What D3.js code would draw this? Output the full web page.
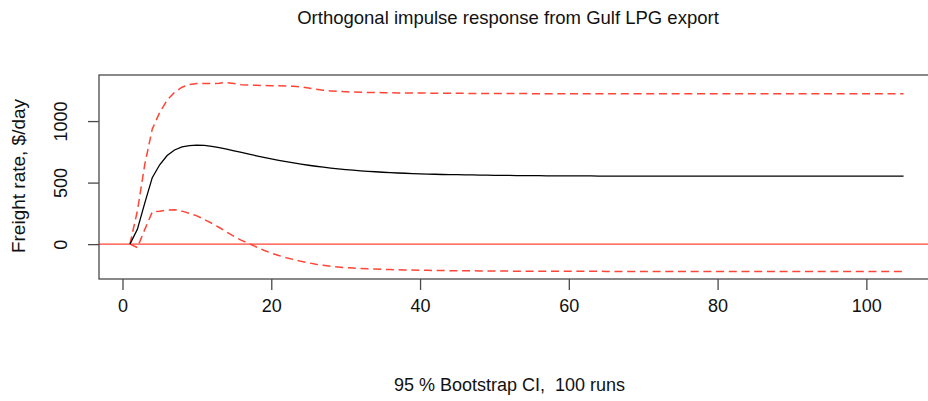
<!DOCTYPE html>
<html>
<head>
<meta charset="utf-8">
<script src="https://cdn.jsdelivr.net/npm/d3@7"></script>
<style>
  html, body { margin: 0; padding: 0; background: #fff; }
  svg { display: block; font-family: "Liberation Sans", Arial, Helvetica, sans-serif; }
  text { white-space: pre; }
</style>
</head>
<body>
<svg id="chart" width="928" height="401"></svg>
<script>
// Orthogonal impulse response of the freight rate to a Gulf LPG export shock,
// with 95% bootstrap confidence bands (horizon steps 1..105).
const title = "Orthogonal impulse response from Gulf LPG export";
const subtitle = "95 % Bootstrap CI,  100 runs";
const yLabel = "Freight rate, $/day";

const xTicks = [0, 20, 40, 60, 80, 100];
const yTicks = [0, 500, 1000];

// point estimate
const irf = [
  0, 120, 335, 540, 645, 720, 765, 790, 801, 804,
  802, 795, 784, 772, 758, 745, 731, 718, 705, 693,
  681, 670, 660, 650, 641, 633, 625, 618, 612, 606,
  601, 596, 592, 588, 584, 581, 578, 576, 573, 571,
  569, 568, 566, 565, 564, 563, 562, 561, 560, 559,
  558, 558, 557, 557, 556, 556, 555, 555, 555, 554,
  554, 554, 554, 553, 553, 553, 553, 553, 553, 553,
  553, 553, 553, 552, 552, 552, 552, 552, 552, 552,
  552, 552, 552, 552, 552, 552, 552, 552, 552, 552,
  552, 552, 552, 552, 552, 552, 552, 552, 552, 552,
  552, 552, 552, 552, 552
];

// upper 95% bound
const upper = [
  0, 270, 650, 935, 1070, 1170, 1235, 1275, 1298, 1305,
  1306, 1305, 1308, 1313, 1305, 1296, 1293, 1291, 1289, 1288,
  1287, 1285, 1283, 1278, 1268, 1258, 1250, 1245, 1241, 1238,
  1236, 1234, 1233, 1232, 1231, 1230, 1229, 1229, 1228, 1228,
  1227, 1227, 1226, 1226, 1226, 1225, 1225, 1225, 1225, 1224,
  1224, 1224, 1224, 1224, 1223, 1223, 1223, 1223, 1223, 1223,
  1223, 1223, 1223, 1222, 1222, 1222, 1222, 1222, 1222, 1222,
  1222, 1222, 1222, 1222, 1222, 1222, 1222, 1222, 1222, 1222,
  1222, 1222, 1222, 1222, 1222, 1222, 1222, 1222, 1222, 1222,
  1222, 1222, 1222, 1222, 1222, 1222, 1222, 1222, 1222, 1222,
  1222, 1222, 1222, 1222, 1222
];

// lower 95% bound
const lower = [
  0, -28, 120, 262, 268, 276, 280, 268, 250, 230,
  200, 170, 135, 98, 62, 31, 4, -23, -50, -73,
  -93, -110, -125, -140, -152, -163, -172, -180, -186, -191,
  -195, -198, -201, -203, -205, -207, -209, -210, -211, -212,
  -213, -214, -215, -216, -216, -217, -217, -218, -218, -219,
  -219, -219, -220, -220, -220, -220, -221, -221, -221, -221,
  -221, -221, -221, -221, -222, -222, -222, -222, -222, -222,
  -222, -222, -222, -222, -222, -222, -222, -222, -222, -222,
  -222, -222, -222, -222, -222, -222, -222, -222, -222, -222,
  -222, -222, -222, -222, -222, -222, -222, -222, -222, -222,
  -222, -222, -222, -222, -222
];

const steps = irf.map((_, i) => i + 1);

const svg = d3.select("#chart");
const plot = { left: 99, right: 934.5, top: 75, bottom: 279 };
const font = "'Liberation Sans', Arial, Helvetica, sans-serif";

// axis ranges padded by 4% on each side
function padded(ext) {
  const p = (ext[1] - ext[0]) * 0.04;
  return [ext[0] - p, ext[1] + p];
}
const all = lower.concat(irf, upper);
const x = d3.scaleLinear().domain(padded(d3.extent(steps))).range([plot.left, plot.right]);
const y = d3.scaleLinear().domain(padded(d3.extent(all))).range([plot.bottom, plot.top]);

const axisColor = "#4a4a4a";
const red = "#ff4536";

// zero reference line
svg.append("line")
  .attr("x1", plot.left).attr("x2", plot.right)
  .attr("y1", y(0)).attr("y2", y(0))
  .attr("stroke", red).attr("stroke-width", 1.3);

const line = d3.line().x((d, i) => x(steps[i])).y(d => y(d));

[upper, lower].forEach(band => {
  svg.append("path").datum(band)
    .attr("d", line).attr("fill", "none")
    .attr("stroke", red).attr("stroke-width", 1.5)
    .attr("stroke-dasharray", "8,4.7");
});

svg.append("path").datum(irf)
  .attr("d", line).attr("fill", "none")
  .attr("stroke", "#000").attr("stroke-width", 1.3);

// frame
svg.append("rect")
  .attr("x", plot.left).attr("y", plot.top)
  .attr("width", plot.right - plot.left).attr("height", plot.bottom - plot.top)
  .attr("fill", "none").attr("stroke", axisColor).attr("stroke-width", 1.3);

// x axis
const gx = svg.append("g")
  .attr("transform", `translate(0,${plot.bottom})`)
  .call(d3.axisBottom(x).tickValues(xTicks).tickSize(11).tickPadding(9).tickFormat(d3.format("d")));
gx.select(".domain").remove();
gx.selectAll(".tick line").attr("stroke", axisColor).attr("stroke-width", 1.3);
gx.selectAll(".tick text").attr("fill", "#111")
  .style("font-size", "18px").style("font-family", font);

// y axis with labels turned parallel to the axis
const gy = svg.append("g")
  .attr("transform", `translate(${plot.left},0)`)
  .call(d3.axisLeft(y).tickValues(yTicks).tickSize(11).tickFormat(d3.format("d")));
gy.select(".domain").remove();
gy.selectAll(".tick line").attr("stroke", axisColor).attr("stroke-width", 1.3);
gy.selectAll(".tick text")
  .attr("x", null).attr("dy", null)
  .attr("text-anchor", "middle")
  .attr("transform", "translate(-32,0) rotate(-90)")
  .attr("fill", "#111")
  .style("font-size", "18px").style("font-family", font);

// titles
svg.append("text")
  .attr("x", 508).attr("y", 24)
  .attr("text-anchor", "middle")
  .style("font-size", "18.5px").attr("fill", "#111")
  .text(title);

svg.append("text")
  .attr("x", 509.5).attr("y", 391)
  .attr("text-anchor", "middle")
  .style("font-size", "18px").attr("fill", "#111")
  .text(subtitle);

svg.append("text")
  .attr("transform", "translate(25,176) rotate(-90)")
  .attr("text-anchor", "middle")
  .style("font-size", "19px").attr("fill", "#111")
  .text(yLabel);
</script>
</body>
</html>
